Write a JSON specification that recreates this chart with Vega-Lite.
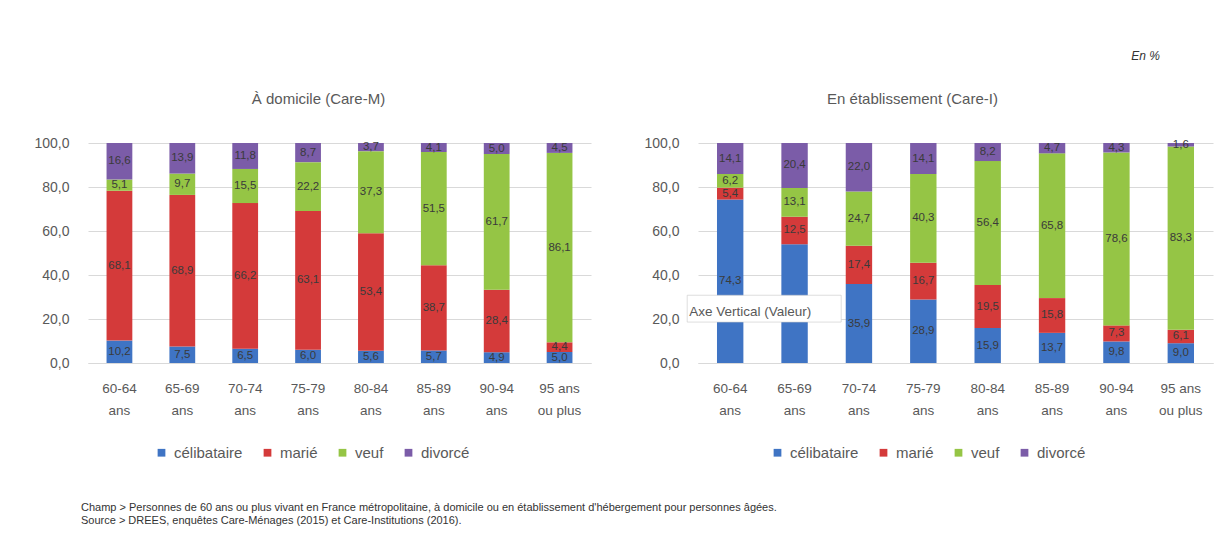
{
  "$schema": "https://vega.github.io/schema/vega-lite/v6.json",
  "padding": {"left": 33, "top": 50, "right": 5, "bottom": 2},
  "background": "white",
  "datasets": {
    "etat": [
      {"lieu": "domicile", "age": "60-64 ans", "statut": "célibataire", "ordre": 1, "valeur": 10.2},
      {"lieu": "domicile", "age": "60-64 ans", "statut": "marié", "ordre": 2, "valeur": 68.1},
      {"lieu": "domicile", "age": "60-64 ans", "statut": "veuf", "ordre": 3, "valeur": 5.1},
      {"lieu": "domicile", "age": "60-64 ans", "statut": "divorcé", "ordre": 4, "valeur": 16.6},
      {"lieu": "domicile", "age": "65-69 ans", "statut": "célibataire", "ordre": 1, "valeur": 7.5},
      {"lieu": "domicile", "age": "65-69 ans", "statut": "marié", "ordre": 2, "valeur": 68.9},
      {"lieu": "domicile", "age": "65-69 ans", "statut": "veuf", "ordre": 3, "valeur": 9.7},
      {"lieu": "domicile", "age": "65-69 ans", "statut": "divorcé", "ordre": 4, "valeur": 13.9},
      {"lieu": "domicile", "age": "70-74 ans", "statut": "célibataire", "ordre": 1, "valeur": 6.5},
      {"lieu": "domicile", "age": "70-74 ans", "statut": "marié", "ordre": 2, "valeur": 66.2},
      {"lieu": "domicile", "age": "70-74 ans", "statut": "veuf", "ordre": 3, "valeur": 15.5},
      {"lieu": "domicile", "age": "70-74 ans", "statut": "divorcé", "ordre": 4, "valeur": 11.8},
      {"lieu": "domicile", "age": "75-79 ans", "statut": "célibataire", "ordre": 1, "valeur": 6.0},
      {"lieu": "domicile", "age": "75-79 ans", "statut": "marié", "ordre": 2, "valeur": 63.1},
      {"lieu": "domicile", "age": "75-79 ans", "statut": "veuf", "ordre": 3, "valeur": 22.2},
      {"lieu": "domicile", "age": "75-79 ans", "statut": "divorcé", "ordre": 4, "valeur": 8.7},
      {"lieu": "domicile", "age": "80-84 ans", "statut": "célibataire", "ordre": 1, "valeur": 5.6},
      {"lieu": "domicile", "age": "80-84 ans", "statut": "marié", "ordre": 2, "valeur": 53.4},
      {"lieu": "domicile", "age": "80-84 ans", "statut": "veuf", "ordre": 3, "valeur": 37.3},
      {"lieu": "domicile", "age": "80-84 ans", "statut": "divorcé", "ordre": 4, "valeur": 3.7},
      {"lieu": "domicile", "age": "85-89 ans", "statut": "célibataire", "ordre": 1, "valeur": 5.7},
      {"lieu": "domicile", "age": "85-89 ans", "statut": "marié", "ordre": 2, "valeur": 38.7},
      {"lieu": "domicile", "age": "85-89 ans", "statut": "veuf", "ordre": 3, "valeur": 51.5},
      {"lieu": "domicile", "age": "85-89 ans", "statut": "divorcé", "ordre": 4, "valeur": 4.1},
      {"lieu": "domicile", "age": "90-94 ans", "statut": "célibataire", "ordre": 1, "valeur": 4.9},
      {"lieu": "domicile", "age": "90-94 ans", "statut": "marié", "ordre": 2, "valeur": 28.4},
      {"lieu": "domicile", "age": "90-94 ans", "statut": "veuf", "ordre": 3, "valeur": 61.7},
      {"lieu": "domicile", "age": "90-94 ans", "statut": "divorcé", "ordre": 4, "valeur": 5.0},
      {"lieu": "domicile", "age": "95 ans ou plus", "statut": "célibataire", "ordre": 1, "valeur": 5.0},
      {"lieu": "domicile", "age": "95 ans ou plus", "statut": "marié", "ordre": 2, "valeur": 4.4},
      {"lieu": "domicile", "age": "95 ans ou plus", "statut": "veuf", "ordre": 3, "valeur": 86.1},
      {"lieu": "domicile", "age": "95 ans ou plus", "statut": "divorcé", "ordre": 4, "valeur": 4.5},
      {"lieu": "etablissement", "age": "60-64 ans", "statut": "célibataire", "ordre": 1, "valeur": 74.3},
      {"lieu": "etablissement", "age": "60-64 ans", "statut": "marié", "ordre": 2, "valeur": 5.4},
      {"lieu": "etablissement", "age": "60-64 ans", "statut": "veuf", "ordre": 3, "valeur": 6.2},
      {"lieu": "etablissement", "age": "60-64 ans", "statut": "divorcé", "ordre": 4, "valeur": 14.1},
      {"lieu": "etablissement", "age": "65-69 ans", "statut": "célibataire", "ordre": 1, "valeur": 54.0},
      {"lieu": "etablissement", "age": "65-69 ans", "statut": "marié", "ordre": 2, "valeur": 12.5},
      {"lieu": "etablissement", "age": "65-69 ans", "statut": "veuf", "ordre": 3, "valeur": 13.1},
      {"lieu": "etablissement", "age": "65-69 ans", "statut": "divorcé", "ordre": 4, "valeur": 20.4},
      {"lieu": "etablissement", "age": "70-74 ans", "statut": "célibataire", "ordre": 1, "valeur": 35.9},
      {"lieu": "etablissement", "age": "70-74 ans", "statut": "marié", "ordre": 2, "valeur": 17.4},
      {"lieu": "etablissement", "age": "70-74 ans", "statut": "veuf", "ordre": 3, "valeur": 24.7},
      {"lieu": "etablissement", "age": "70-74 ans", "statut": "divorcé", "ordre": 4, "valeur": 22.0},
      {"lieu": "etablissement", "age": "75-79 ans", "statut": "célibataire", "ordre": 1, "valeur": 28.9},
      {"lieu": "etablissement", "age": "75-79 ans", "statut": "marié", "ordre": 2, "valeur": 16.7},
      {"lieu": "etablissement", "age": "75-79 ans", "statut": "veuf", "ordre": 3, "valeur": 40.3},
      {"lieu": "etablissement", "age": "75-79 ans", "statut": "divorcé", "ordre": 4, "valeur": 14.1},
      {"lieu": "etablissement", "age": "80-84 ans", "statut": "célibataire", "ordre": 1, "valeur": 15.9},
      {"lieu": "etablissement", "age": "80-84 ans", "statut": "marié", "ordre": 2, "valeur": 19.5},
      {"lieu": "etablissement", "age": "80-84 ans", "statut": "veuf", "ordre": 3, "valeur": 56.4},
      {"lieu": "etablissement", "age": "80-84 ans", "statut": "divorcé", "ordre": 4, "valeur": 8.2},
      {"lieu": "etablissement", "age": "85-89 ans", "statut": "célibataire", "ordre": 1, "valeur": 13.7},
      {"lieu": "etablissement", "age": "85-89 ans", "statut": "marié", "ordre": 2, "valeur": 15.8},
      {"lieu": "etablissement", "age": "85-89 ans", "statut": "veuf", "ordre": 3, "valeur": 65.8},
      {"lieu": "etablissement", "age": "85-89 ans", "statut": "divorcé", "ordre": 4, "valeur": 4.7},
      {"lieu": "etablissement", "age": "90-94 ans", "statut": "célibataire", "ordre": 1, "valeur": 9.8},
      {"lieu": "etablissement", "age": "90-94 ans", "statut": "marié", "ordre": 2, "valeur": 7.3},
      {"lieu": "etablissement", "age": "90-94 ans", "statut": "veuf", "ordre": 3, "valeur": 78.6},
      {"lieu": "etablissement", "age": "90-94 ans", "statut": "divorcé", "ordre": 4, "valeur": 4.3},
      {"lieu": "etablissement", "age": "95 ans ou plus", "statut": "célibataire", "ordre": 1, "valeur": 9.0},
      {"lieu": "etablissement", "age": "95 ans ou plus", "statut": "marié", "ordre": 2, "valeur": 6.1},
      {"lieu": "etablissement", "age": "95 ans ou plus", "statut": "veuf", "ordre": 3, "valeur": 83.3},
      {"lieu": "etablissement", "age": "95 ans ou plus", "statut": "divorcé", "ordre": 4, "valeur": 1.6}
    ],
    "infobulle": [
      {"age": "60-64 ans", "bas": 18.6, "haut": 30.8, "valeur": 23.2, "texte": "Axe Vertical (Valeur)"}
    ]
  },
  "title": {
    "text": [
      "Champ > Personnes de 60 ans ou plus vivant en France métropolitaine, à domicile ou en établissement d'hébergement pour personnes âgées.",
      "Source > DREES, enquêtes Care-Ménages (2015) et Care-Institutions (2016)."
    ],
    "orient": "bottom",
    "anchor": "start",
    "dx": 47,
    "offset": 41,
    "fontSize": 11,
    "fontWeight": "normal",
    "color": "#333333",
    "lineHeight": 12.5
  },
  "vconcat": [
    {
      "title": {
        "text": "En %",
        "anchor": "end",
        "dx": -53,
        "offset": 29,
        "fontSize": 12,
        "fontStyle": "italic",
        "fontWeight": "normal",
        "color": "#333333"
      },
      "spacing": 52,
      "resolve": {"legend": {"color": "independent"}},
      "hconcat": [
        {
          "width": 503,
          "height": 220,
          "title": {"text": "À domicile (Care-M)", "dx": -21},
          "data": {"name": "etat"},
          "transform": [{"filter": "datum.lieu == 'domicile'"}],
          "encoding": {
            "x": {
              "field": "age", "type": "nominal", "sort": null, "title": null,
              "scale": {"paddingInner": 0.59, "paddingOuter": 0.295}
            },
            "y": {"field": "valeur", "type": "quantitative", "stack": "zero", "title": null,
                  "scale": {"domain": [0, 100]}},
            "order": {"field": "ordre", "type": "quantitative", "sort": "ascending"}
          },
          "layer": [
            {
              "mark": {"type": "bar"},
              "encoding": {
                "color": {
                  "field": "statut", "type": "nominal",
                  "scale": {"domain": ["célibataire", "marié", "veuf", "divorcé"],
                            "range": ["#3F74C4", "#D43A3A", "#95C545", "#7B5CA8"]},
                  "legend": {"title": null, "orient": "none", "legendX": 66, "legendY": 302}
                }
              }
            },
            {
              "mark": {"type": "text", "fontSize": 11.5, "color": "#3A3A3A"},
              "encoding": {
                "y": {"field": "valeur", "type": "quantitative", "stack": "zero", "bandPosition": 0.5},
                "text": {"field": "valeur", "type": "quantitative", "format": ".1f"},
                "detail": {"field": "statut", "type": "nominal"}
              }
            }
          ]
        },
        {
          "width": 515,
          "height": 220,
          "title": {"text": "En établissement (Care-I)", "dx": -43},
          "layer": [
            {
              "data": {"name": "etat"},
              "transform": [{"filter": "datum.lieu == 'etablissement'"}],
              "encoding": {
                "x": {
                  "field": "age", "type": "nominal", "sort": null, "title": null,
                  "scale": {"paddingInner": 0.59, "paddingOuter": 0.295}
                },
                "y": {"field": "valeur", "type": "quantitative", "stack": "zero", "title": null,
                      "scale": {"domain": [0, 100]}},
                "order": {"field": "ordre", "type": "quantitative", "sort": "ascending"}
              },
              "layer": [
                {
                  "mark": {"type": "bar"},
                  "encoding": {
                    "color": {
                      "field": "statut", "type": "nominal",
                      "scale": {"domain": ["célibataire", "marié", "veuf", "divorcé"],
                                "range": ["#3F74C4", "#D43A3A", "#95C545", "#7B5CA8"]},
                      "legend": {"title": null, "orient": "none", "legendX": 72, "legendY": 302}
                    }
                  }
                },
                {
                  "mark": {"type": "text", "fontSize": 11.5, "color": "#3A3A3A"},
                  "encoding": {
                    "y": {"field": "valeur", "type": "quantitative", "stack": "zero", "bandPosition": 0.5},
                    "text": {"field": "valeur", "type": "quantitative", "format": ".1f"},
                    "detail": {"field": "statut", "type": "nominal"}
                  }
                }
              ]
            },
            {
              "data": {"name": "infobulle"},
              "mark": {"type": "bar", "width": 154, "xOffset": 34, "fill": "#FFFFFF", "fillOpacity": 1,
                       "stroke": "#C8C8C8", "strokeWidth": 0.6},
              "encoding": {
                "x": {"field": "age", "type": "nominal"},
                "y": {"field": "bas", "type": "quantitative"},
                "y2": {"field": "haut"}
              }
            },
            {
              "data": {"name": "infobulle"},
              "mark": {"type": "text", "align": "left", "dx": -41, "fontSize": 13.5, "color": "#595959"},
              "encoding": {
                "x": {"field": "age", "type": "nominal"},
                "y": {"field": "valeur", "type": "quantitative"},
                "text": {"field": "texte"}
              }
            }
          ]
        }
      ]
    }
  ],
  "config": {
    "locale": {"number": {"decimal": ",", "thousands": " ", "grouping": [3], "currency": ["", " €"]}},
    "view": {"stroke": null},
    "font": "Liberation Sans",
    "title": {"fontSize": 15, "fontWeight": "normal", "color": "#595959", "offset": 29, "anchor": "middle"},
    "axisY": {
      "values": [0, 20, 40, 60, 80, 100], "format": ".1f",
      "domain": false, "ticks": false, "gridColor": "#D9D9D9",
      "labelColor": "#595959", "labelFontSize": 14, "labelPadding": 19
    },
    "axisX": {
      "domainColor": "#D9D9D9", "ticks": false, "grid": false,
      "labelColor": "#595959", "labelFontSize": 13.5, "labelPadding": 18, "labelLineHeight": 22,
      "labelAngle": 0,
      "labelExpr": "datum.value == '95 ans ou plus' ? ['95 ans', 'ou plus'] : [slice(datum.value, 0, 5), 'ans']"
    },
    "legend": {
      "direction": "horizontal", "symbolType": "square", "symbolSize": 60,
      "labelFontSize": 15, "labelColor": "#595959", "columnPadding": 17, "labelOffset": 5,
      "symbolStrokeWidth": 0
    }
  }
}
